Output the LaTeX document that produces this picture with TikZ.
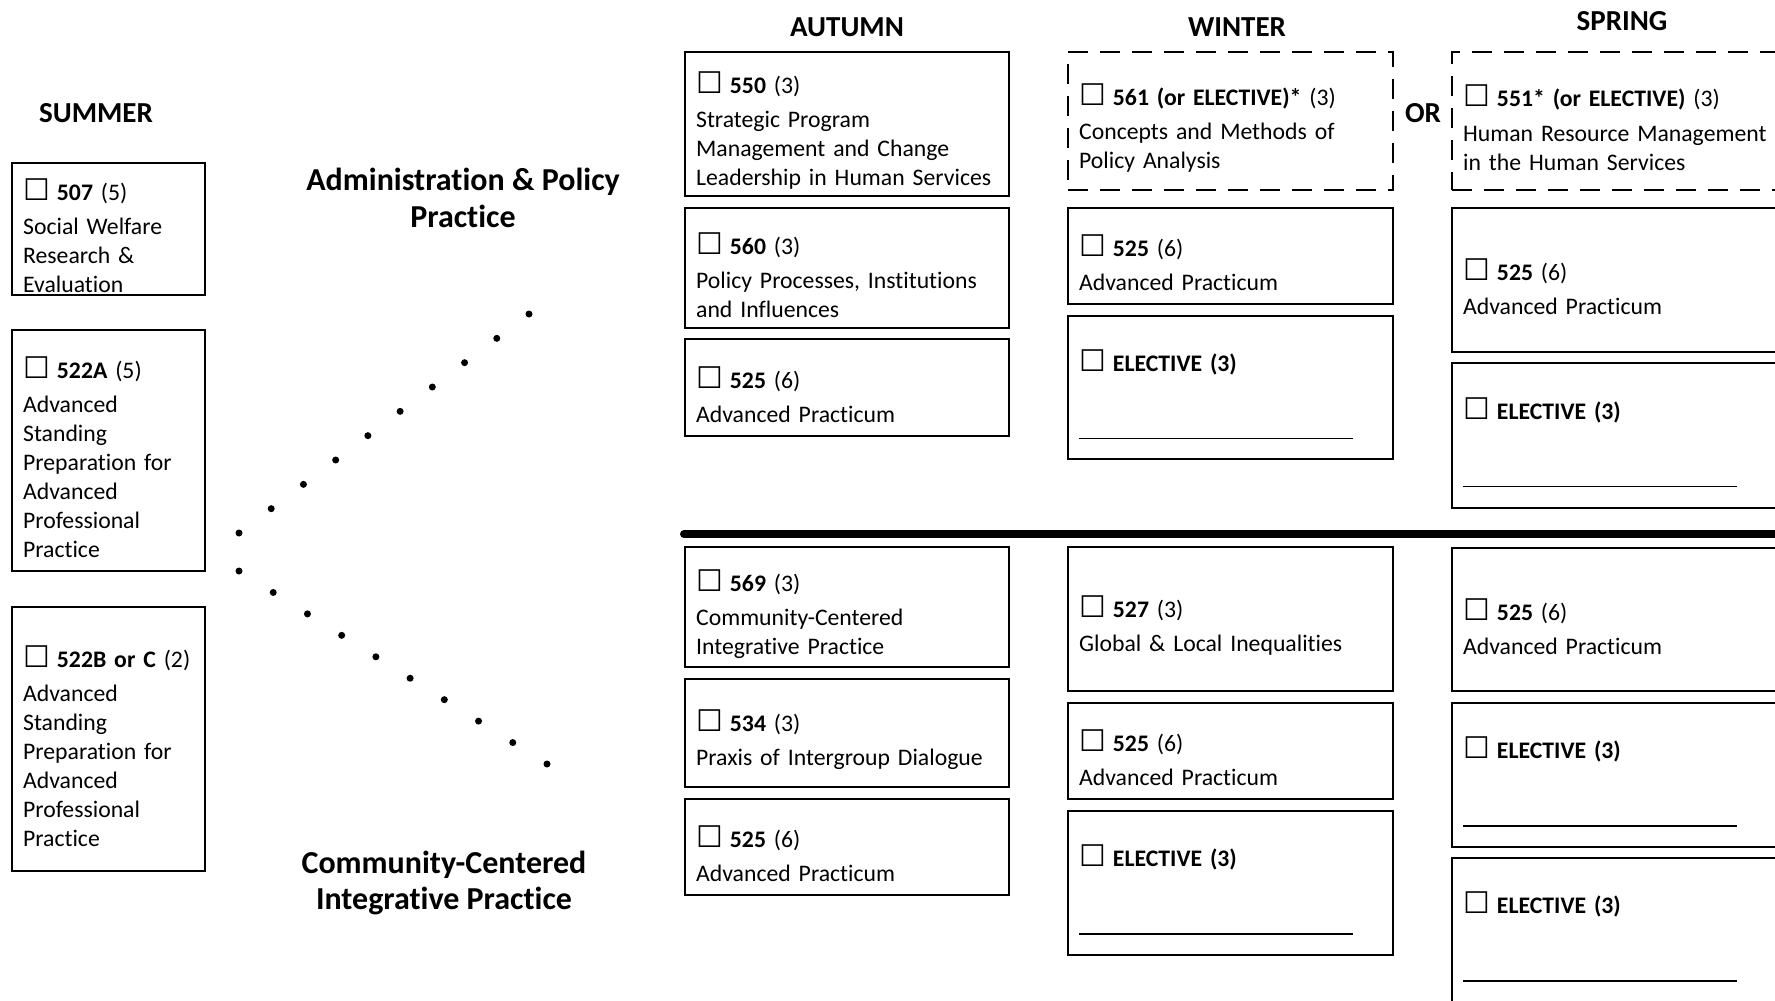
\documentclass[tikz,border=0pt]{standalone}
\usepackage{fontspec}
\setmainfont{Carlito}[Ligatures=NoCommon]
\newfontfamily\boxfont{DejaVu Sans}
\usetikzlibrary{calc}
\newcommand{\coursefont}{\fontsize{13.5}{16.5}\selectfont}
\newcommand{\termfont}{\fontsize{16.5}{20}\selectfont\bfseries}
\newcommand{\trackfont}{\fontsize{18.2}{21}\selectfont\bfseries}
\newcommand{\tickbox}{\rule{0pt}{20pt}{\boxfont\fontsize{17}{17}\selectfont ☐}\hspace{4pt}}
\newcommand{\blankline}{\rule{54.8mm}{0.7pt}}
\tikzset{
  course/.style  = {draw,line width=1.3pt,anchor=north west,align=left,
                    inner xsep=2.2mm,inner ysep=0pt,font=\coursefont},
  optcourse/.style = {course,dash pattern=on 4mm off 2.4mm},
  sumcol/.style  = {text width=34.2mm,minimum width=38.6mm},
  autcol/.style  = {text width=60.4mm,minimum width=64.8mm},
  wincol/.style  = {text width=60.6mm,minimum width=65mm},
  sprcol/.style  = {text width=62.6mm,minimum width=67mm},
  term/.style    = {font=\termfont,inner sep=0pt},
  track/.style   = {font=\trackfont,align=center,inner sep=0pt},
  divider/.style = {line width=1.6mm,line cap=round},
}
\begin{document}
\begin{tikzpicture}[x=0.2mm,y=-0.2mm]
  \useasboundingbox[fill=white] (0,0) rectangle (1775,1000);

  % term headings
  \node[term] (hsum) at (96,113)   {SUMMER};
  \node[term] (haut) at (847,27)   {AUTUMN};
  \node[term] (hwin) at (1237,27)  {WINTER};
  \node[term] (hspr) at (1622,21)  {SPRING};
  \node[term] (hor)  at (1423,113) {OR};

  % tracks
  \node[track] (tadm) at (463,198) {Administration \& Policy\\Practice};
  \node[track] (tcom) at (444,883) {Community-Centered\\Integrative Practice};

  % summer
  \node[course,sumcol,minimum height=26.4mm] (s507) at (11,162)
    {\tickbox\textbf{507} (5)\\[3pt]Social Welfare\\Research \&\\Evaluation};
  \node[course,sumcol,minimum height=48.2mm] (s522a) at (11,329)
    {\tickbox\textbf{522A} (5)\\[3pt]Advanced\\Standing\\Preparation for\\Advanced\\Professional\\Practice};
  \node[course,sumcol,minimum height=52.8mm] (s522b) at (11,606)
    {\tickbox\textbf{522B or C} (2)\\[3pt]Advanced\\Standing\\Preparation for\\Advanced\\Professional\\Practice};

  % autumn
  \node[course,autcol,minimum height=28.8mm] (a550) at (684,51)
    {\tickbox\textbf{550} (3)\\[3pt]Strategic Program\\Management and Change\\Leadership in Human Services};
  \node[course,autcol,minimum height=24mm] (a560) at (684,207)
    {\tickbox\textbf{560} (3)\\[3pt]Policy Processes, Institutions\\and Influences};
  \node[course,autcol,minimum height=19.4mm] (a525) at (684,338)
    {\tickbox\textbf{525} (6)\\[3pt]Advanced Practicum};
  \node[course,autcol,minimum height=24mm] (a569) at (684,546)
    {\tickbox\textbf{569} (3)\\[3pt]Community-Centered\\Integrative Practice};
  \node[course,autcol,minimum height=21.6mm] (a534) at (684,678)
    {\tickbox\textbf{534} (3)\\[3pt]Praxis of Intergroup Dialogue};
  \node[course,autcol,minimum height=19.2mm] (a525c) at (684,798)
    {\tickbox\textbf{525} (6)\\[3pt]Advanced Practicum};

  % winter
  \node[optcourse,wincol,minimum height=27.6mm] (w561) at (1067,51)
    {\tickbox\textbf{561 (or ELECTIVE)*} (3)\\[3pt]Concepts and Methods of\\Policy Analysis};
  \node[course,wincol,minimum height=19.2mm] (w525) at (1067,207)
    {\tickbox\textbf{525} (6)\\[3pt]Advanced Practicum};
  \node[course,wincol,minimum height=28.6mm] (wel1) at (1067,315)
    {\tickbox\textbf{ELECTIVE (3)}\\[22pt]\blankline};
  \node[course,wincol,minimum height=28.8mm] (w527) at (1067,546)
    {\tickbox\textbf{527} (3)\\[3pt]Global \& Local Inequalities};
  \node[course,wincol,minimum height=19.2mm] (w525c) at (1067,702)
    {\tickbox\textbf{525} (6)\\[3pt]Advanced Practicum};
  \node[course,wincol,minimum height=28.8mm] (wel2) at (1067,810)
    {\tickbox\textbf{ELECTIVE (3)}\\[22pt]\blankline};

  % spring
  \node[optcourse,sprcol,minimum height=27.6mm] (p551) at (1451,51)
    {\tickbox\textbf{551* (or ELECTIVE)} (3)\\[3pt]Human Resource Management\\in the Human Services};
  \node[course,sprcol,minimum height=28.8mm] (p525) at (1451,207)
    {\tickbox\textbf{525} (6)\\[3pt]Advanced Practicum};
  \node[course,sprcol,minimum height=29mm] (pel1) at (1451,362)
    {\tickbox\textbf{ELECTIVE (3)}\\[22pt]\blankline};
  \node[course,sprcol,minimum height=28.6mm] (p525c) at (1451,547)
    {\tickbox\textbf{525} (6)\\[3pt]Advanced Practicum};
  \node[course,sprcol,minimum height=28.8mm] (pel2) at (1451,702)
    {\tickbox\textbf{ELECTIVE (3)}\\[22pt]\blankline};
  \node[course,sprcol,minimum height=28.8mm] (pel3) at (1451,857)
    {\tickbox\textbf{ELECTIVE (3)}\\[22pt]\blankline};

  % divider between the tracks
  \coordinate (divL) at (684,534);
  \coordinate (divR) at (1800,534);
  \draw[divider] (divL) -- (divR);

  % dotted branches
  \coordinate (up0) at (239,533);
  \coordinate (up1) at (529,314);
  \coordinate (lo0) at (239,571);
  \coordinate (lo1) at (547,764);
  \foreach \i in {0,...,9}{
    \fill ($(up0)!\i/9!(up1)$) circle[radius=0.7mm];
    \fill ($(lo0)!\i/9!(lo1)$) circle[radius=0.7mm];
  }
\end{tikzpicture}
\end{document}
